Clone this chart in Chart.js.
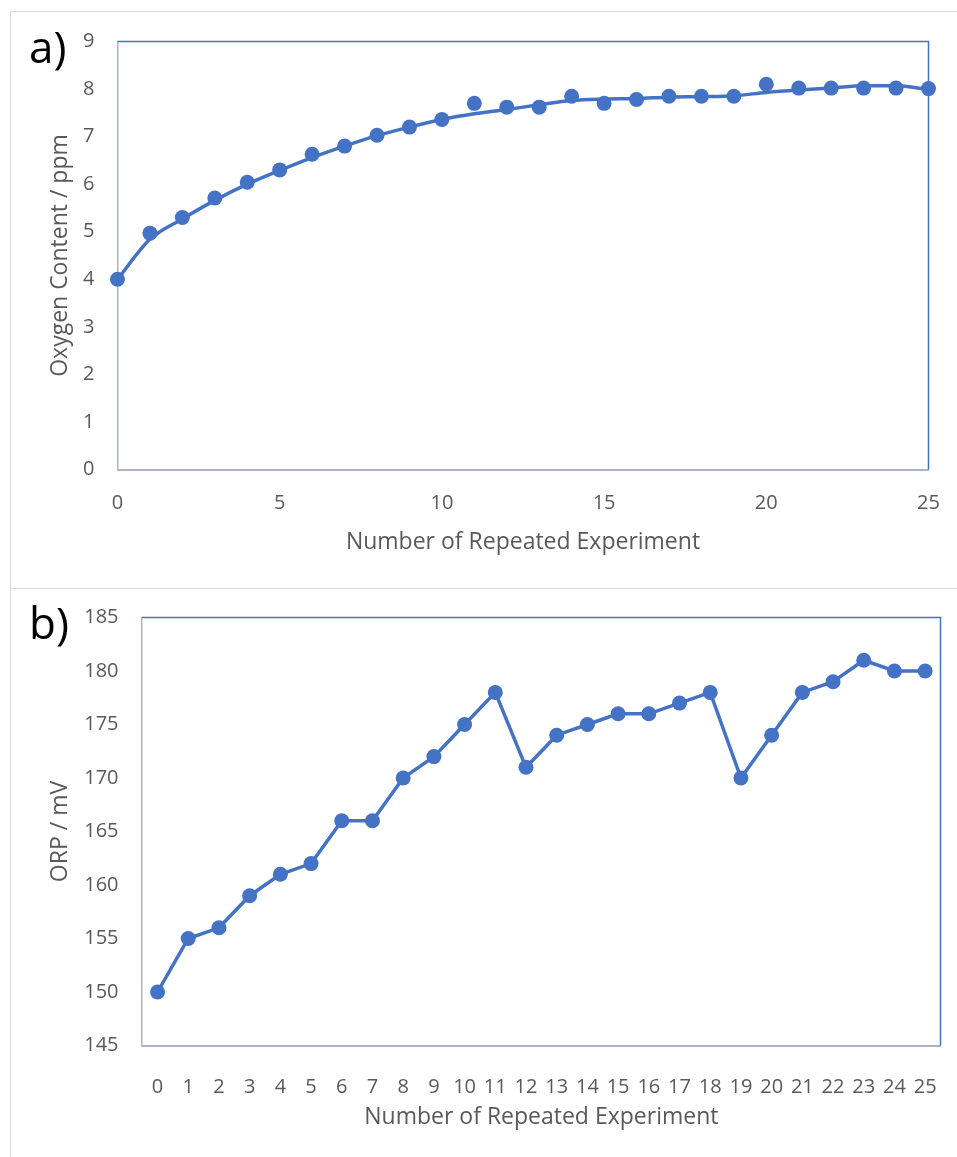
<!DOCTYPE html>
<html>
<head>
<meta charset="utf-8">
<script src="https://cdn.jsdelivr.net/npm/chart.js@4"></script>
<style>
  body { margin: 0; background: #fff; width: 957px; height: 1157px; position: relative; overflow: hidden; }
  .panel { position: absolute; left: 10px; width: 960px; border: 1.5px solid #d9d9d9; box-sizing: border-box; }
  #panelA { top: 11px; height: 578px; }
  #panelB { top: 588px; height: 580px; }
  .tag { position: absolute; font-family: "Open Sans", sans-serif; font-size: 44px; color: #000; line-height: 1; }
  canvas { position: absolute; left: 0; top: 0; }
</style>
</head>
<body>
<div class="panel" id="panelA">
  <canvas id="chartA" width="947" height="577"></canvas>
  <div class="tag" style="left:18px; top:12px;">a)</div>
</div>
<div class="panel" id="panelB">
  <canvas id="chartB" width="947" height="569"></canvas>
  <div class="tag" style="left:18px; top:11px;">b)</div>
</div>
<script>
// panel a) oxygen content, measured points and trend curve (read off the picture)
const runsA = [0,1,2,3,4,5,6,7,8,9,10,11,12,13,14,15,16,17,18,19,20,21,22,23,24,25];
const oxygen = [4.0,4.97,5.3,5.71,6.04,6.3,6.63,6.8,7.03,7.2,7.36,7.7,7.62,7.62,7.85,7.7,7.78,7.85,7.85,7.85,8.1,8.02,8.02,8.02,8.02,8.01];
const oxygenTrend = [4.0,4.84,5.27,5.66,6.0,6.29,6.56,6.8,7.02,7.2,7.36,7.48,7.57,7.67,7.76,7.79,7.8,7.83,7.84,7.86,7.93,7.98,8.02,8.07,8.07,7.99];
const xTicksA = [0,5,10,15,20,25];

// panel b) ORP
const runsB = ["0","1","2","3","4","5","6","7","8","9","10","11","12","13","14","15","16","17","18","19","20","21","22","23","24","25"];
const orp = [150,155,156,159,161,162,166,166,170,172,175,178,171,174,175,176,176,177,178,170,174,178,179,181,180,180];

const blue = "#4472c4";
const grey = "#595959";
const axisLine = "#aab4c6";
const tickFont = { family: "Open Sans", size: 20 };
const titleFont = { family: "Open Sans", size: 23 };

// blue border on top and right of the plot area
const plotFrame = {
  id: "plotFrame",
  afterDraw(chart) {
    const { ctx, chartArea: a } = chart;
    ctx.save();
    ctx.strokeStyle = blue;
    ctx.lineWidth = 1.5;
    ctx.beginPath();
    ctx.moveTo(a.left, a.top);
    ctx.lineTo(a.right, a.top);
    ctx.lineTo(a.right, a.bottom);
    ctx.stroke();
    ctx.restore();
  }
};

function fixWidth(w) { return (scale) => { scale.width = w; }; }
function fixHeight(h) { return (scale) => { scale.height = h; }; }
// invisible tick marks, used only to space the labels away from the axis
function gap(len) { return { display: true, drawOnChartArea: false, drawTicks: true, tickLength: len, color: "rgba(0,0,0,0)" }; }

new Chart(document.getElementById("chartA"), {
  type: "scatter",
  data: {
    datasets: [
      {
        data: runsA.map((x, i) => ({ x, y: oxygen[i] })),
        showLine: false,
        pointRadius: 7.5,
        pointHoverRadius: 7.5,
        backgroundColor: blue,
        borderColor: blue,
        borderWidth: 0,
        clip: false
      },
      {
        data: runsA.map((x, i) => ({ x, y: oxygenTrend[i] })),
        showLine: true,
        pointRadius: 0,
        borderColor: blue,
        borderWidth: 3.5,
        cubicInterpolationMode: "monotone",
        clip: false
      }
    ]
  },
  options: {
    responsive: false,
    animation: false,
    layout: { padding: { top: 29.5, right: 29.5, left: 31.7, bottom: 29.2 } },
    plugins: { legend: { display: false }, tooltip: { enabled: false } },
    scales: {
      x: {
        type: "linear", min: 0, max: 25,
        afterFit: fixHeight(90.3),
        afterBuildTicks: (s) => { s.ticks = xTicksA.map(v => ({ value: v })); },
        grid: gap(21),
        border: { color: axisLine, width: 2 },
        ticks: { color: grey, font: tickFont, padding: 1, maxRotation: 0 },
        title: { display: true, text: "Number of Repeated Experiment", color: grey, font: titleFont }
      },
      y: {
        min: 0, max: 9,
        afterFit: fixWidth(74.8),
        grid: gap(22),
        border: { color: axisLine, width: 1.5 },
        ticks: { color: grey, font: tickFont, stepSize: 1, padding: 1 },
        title: { display: true, text: "Oxygen Content / ppm", color: grey, font: titleFont }
      }
    }
  },
  plugins: [plotFrame]
});

new Chart(document.getElementById("chartB"), {
  type: "line",
  data: {
    labels: runsB,
    datasets: [{
      data: orp,
      pointRadius: 7.5,
      pointHoverRadius: 7.5,
      pointBackgroundColor: blue,
      pointBorderWidth: 0,
      borderColor: blue,
      borderWidth: 3.5,
      tension: 0,
      clip: false
    }]
  },
  options: {
    responsive: false,
    animation: false,
    layout: { padding: { top: 28.5, right: 17.5, left: 31.7, bottom: 22.7 } },
    plugins: { legend: { display: false }, tooltip: { enabled: false } },
    scales: {
      x: {
        offset: true,
        afterFit: fixHeight(89.8),
        grid: gap(29),
        border: { color: axisLine, width: 2 },
        ticks: { color: grey, font: tickFont, padding: 1, maxRotation: 0, autoSkip: false },
        title: { display: true, text: "Number of Repeated Experiment", color: grey, font: titleFont }
      },
      y: {
        min: 145, max: 185,
        afterFit: fixWidth(99.5),
        grid: gap(22.7),
        border: { color: axisLine, width: 1.5 },
        ticks: { color: grey, font: tickFont, stepSize: 5, padding: 1 },
        title: { display: true, text: "ORP / mV", color: grey, font: titleFont }
      }
    }
  },
  plugins: [plotFrame]
});
</script>
</body>
</html>
